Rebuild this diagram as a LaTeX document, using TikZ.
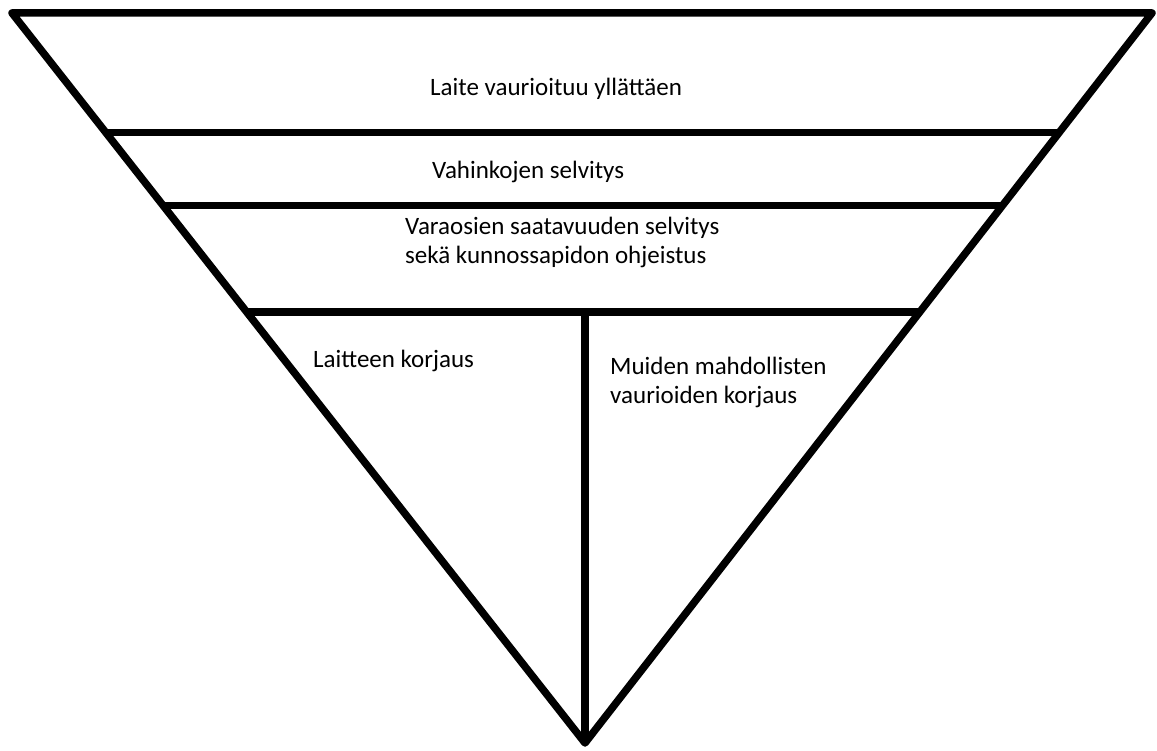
\documentclass[tikz,border=0pt]{standalone}
\usepackage{fontspec}
\setmainfont{Carlito}
\usetikzlibrary{calc}
\begin{document}
\begin{tikzpicture}[x=1pt,y=-1pt,
  heavy/.style={line width=7.5pt,line join=round,line cap=butt},
  label/.style={font=\fontsize{25}{29}\selectfont,inner sep=0pt,anchor=base west,align=left,text=black}]
\useasboundingbox[fill=white] (0,0) rectangle (1157,751);
\coordinate (tl) at (12,13);
\coordinate (tr) at (1152,13);
\coordinate (ap) at (585,743);
\draw[heavy] (tl) -- (tr) -- (ap) -- cycle;
\coordinate (l1) at ($(tl)!0.164!(ap)$);
\coordinate (r1) at ($(tr)!0.164!(ap)$);
\coordinate (l2) at ($(tl)!0.2637!(ap)$);
\coordinate (r2) at ($(tr)!0.2637!(ap)$);
\coordinate (l3) at ($(tl)!0.4098!(ap)$);
\coordinate (r3) at ($(tr)!0.4098!(ap)$);
\coordinate (m3) at (585,313);
\draw[heavy] (l1) -- (r1);
\draw[heavy] (l2) -- (r2);
\draw[heavy] (l3) -- (r3);
\draw[heavy] (m3) -- (ap);
\node[label] (t1) at (430,96) {Laite vaurioituu yllättäen};
\node[label] (t2) at (432,179) {Vahinkojen selvitys};
\node[label] (t3) at (405,264) {Varaosien saatavuuden selvitys\\sekä kunnossapidon ohjeistus};
\node[label] (t4) at (313,367) {Laitteen korjaus};
\node[label] (t5) at (610,403) {Muiden mahdollisten\\vaurioiden korjaus};
\end{tikzpicture}
\end{document}
